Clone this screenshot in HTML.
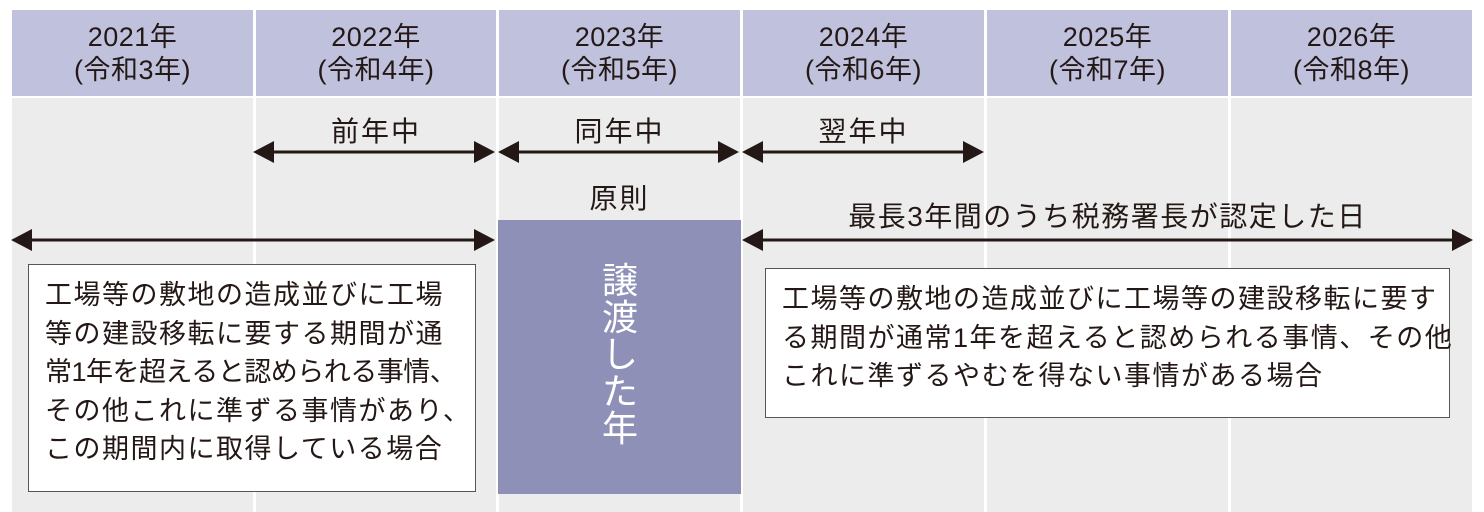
<!DOCTYPE html>
<html><head><meta charset="utf-8"><style>
body{margin:0;width:1484px;height:512px;background:#fff;position:relative;overflow:hidden;font-family:"Liberation Sans","Noto Sans CJK JP",sans-serif;color:#231815}
.h{position:absolute;top:10px;height:86px;background:#c0c1dd;text-align:center;font-size:27px;line-height:33px;padding-top:11px;box-sizing:border-box;letter-spacing:0.5px}
.b{position:absolute;top:98px;height:414px;background:#ececec}
.t{position:absolute;font-size:28px;letter-spacing:2px;text-align:center}
.box{position:absolute;background:#fff;border:1px solid #555;box-sizing:border-box;font-size:27px;letter-spacing:1.5px;line-height:38.5px;padding:11px 0 0 16px;white-space:nowrap}
</style></head><body>
<div class="h" style="left:12px;width:241px">2021年<br>(令和3年)</div>
<div class="h" style="left:256px;width:240px">2022年<br>(令和4年)</div>
<div class="h" style="left:499px;width:241px">2023年<br>(令和5年)</div>
<div class="h" style="left:743px;width:241px">2024年<br>(令和6年)</div>
<div class="h" style="left:987px;width:241px">2025年<br>(令和7年)</div>
<div class="h" style="left:1231px;width:241px">2026年<br>(令和8年)</div>
<div class="b" style="left:12px;width:241px"></div>
<div class="b" style="left:256px;width:240px"></div>
<div class="b" style="left:499px;width:241px"></div>
<div class="b" style="left:743px;width:241px"></div>
<div class="b" style="left:987px;width:241px"></div>
<div class="b" style="left:1231px;width:241px"></div>
<div style="position:absolute;left:498px;top:220px;width:243px;height:274px;background:#8e90b8"></div>
<div style="position:absolute;left:598px;top:262px;width:44px;color:#fff;font-size:36px;line-height:37px;text-align:center">譲<br>渡<br>し<br>た<br>年</div>
<div class="t" style="left:256px;width:240px;top:110px">前年中</div>
<div class="t" style="left:499px;width:241px;top:110px">同年中</div>
<div class="t" style="left:743px;width:241px;top:110px">翌年中</div>
<div class="t" style="left:499px;width:241px;top:177px">原則</div>
<div class="t" style="left:743px;width:729px;top:195px;font-size:28px;letter-spacing:1.5px">最長3年間のうち税務署長が認定した日</div>
<svg width="1484" height="512" style="position:absolute;left:0;top:0" fill="#231815" stroke="#231815">
<g stroke-width="3">
<line x1="270" y1="152" x2="478" y2="152"/>
<line x1="514" y1="152" x2="722" y2="152"/>
<line x1="758" y1="152" x2="966" y2="152"/>
<line x1="28" y1="240" x2="478" y2="240"/>
<line x1="758" y1="240" x2="1456" y2="240"/>
</g>
<g stroke="none">
<polygon points="253,152 274,141 274,163"/><polygon points="495,152 474,141 474,163"/>
<polygon points="498,152 519,141 519,163"/><polygon points="739,152 718,141 718,163"/>
<polygon points="742,152 763,141 763,163"/><polygon points="984,152 963,141 963,163"/>
<polygon points="11,240 32,229 32,251"/><polygon points="495,240 474,229 474,251"/>
<polygon points="742,240 763,229 763,251"/><polygon points="1473,240 1452,229 1452,251"/>
</g>
</svg>
<div class="box" style="left:28px;top:264px;width:448px;height:228px">工場等の敷地の造成並びに工場<br>等の建設移転に要する期間が通<br><span style="letter-spacing:-0.5px">常1年を超えると認められる事情、</span><br>その他これに準ずる事情があり、<br>この期間内に取得している場合</div>
<div class="box" style="left:765px;top:268px;width:685px;height:150px">工場等の敷地の造成並びに工場等の建設移転に要す<br>る期間が通常1年を超えると認められる事情、その他<br>これに準ずるやむを得ない事情がある場合</div>
</body></html>
